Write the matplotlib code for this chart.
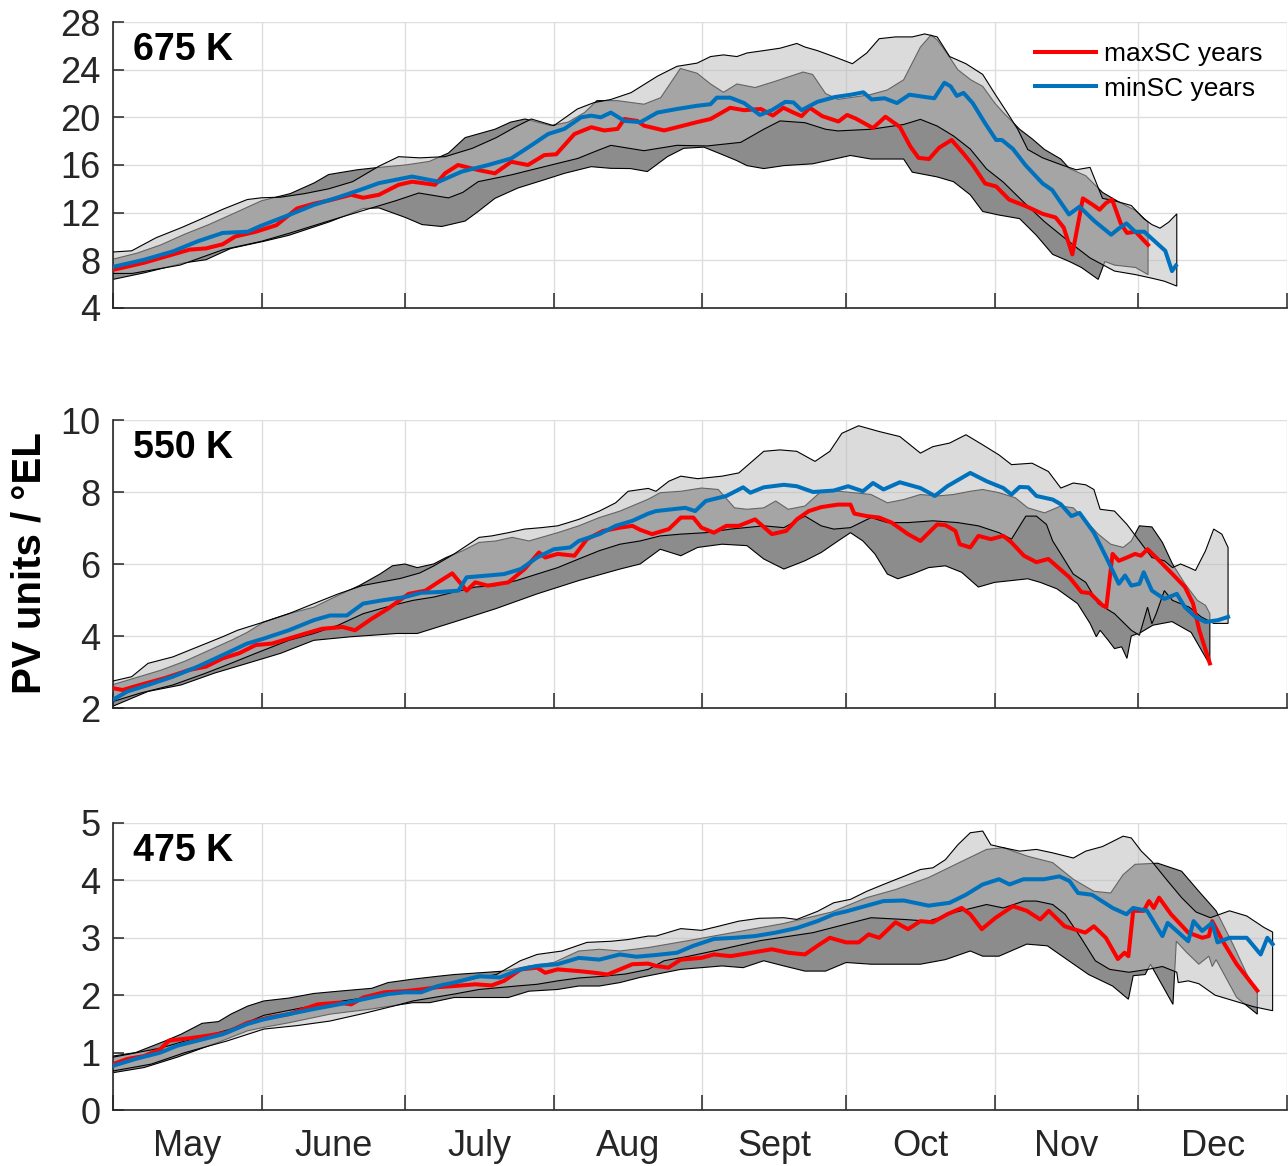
import numpy as np
import matplotlib.pyplot as plt

plt.rcParams['font.family'] = ['Liberation Sans', 'DejaVu Sans']

# x values are days since 1 May
month_names = ['May', 'June', 'July', 'Aug', 'Sept', 'Oct', 'Nov', 'Dec']
month_starts = [0, 31, 61, 92, 123, 153, 184, 214, 245]

# ---------------- 675 K ----------------
dark_hi_675 = [(0, 8.1), (5, 8.6), (10, 9.3), (15, 10.2), (20, 11.0), (25, 11.9), (31, 13.0), (37, 13.6),
               (42, 14.5), (45, 15.2), (51, 15.6), (55.5, 15.8), (61, 16.0), (66, 16.3), (70, 17.0),
               (73.5, 18.3), (79.7, 19.0), (83, 19.6), (86, 19.86), (91.4, 19.3), (95, 19.6), (98.4, 20.4),
               (101, 21.4), (105.3, 21.4), (110.8, 21.1), (114.3, 21.65), (118.4, 24.1), (121.9, 23.7),
               (124.7, 22.8), (127.4, 22.1), (130.2, 22.8), (134, 22.5), (138, 23.0), (144, 23.8), (146, 23.6),
               (148.7, 22.0), (151.3, 21.5), (158, 21.9), (161.6, 22.3), (165, 23.15), (168.5, 25.9),
               (170.7, 26.9), (172, 26.5), (174, 25.4), (176.3, 24.0), (179, 23.15), (181.5, 22.6), (184, 21.2),
               (185.8, 20.4), (189.2, 19.0), (191.8, 18.2), (194.4, 17.3), (197.8, 16.5), (199.6, 15.7),
               (203, 15.1), (206.5, 13.7), (209.9, 12.9), (213.3, 12.2), (216, 11.2)]
dark_lo_675 = [(0, 6.4), (6.5, 6.95), (15, 7.8), (19.4, 8.05), (24.6, 9.0), (31.5, 9.6), (36.7, 10.1),
               (45.3, 11.25), (52.2, 12.35), (55.5, 12.4), (61, 11.6), (64.5, 11.0), (68.6, 10.84),
               (73.5, 11.3), (76.2, 12.1), (79.7, 13.2), (84.5, 14.07), (90, 14.76), (94.2, 15.3),
               (99.8, 15.86), (103.9, 15.72), (108, 15.7), (111.5, 15.45), (115.7, 16.7), (119.1, 17.4),
               (123.3, 17.5), (127, 16.9), (130, 16.4), (132.3, 15.95), (135.8, 15.7), (140, 15.95),
               (146, 16.1), (153.9, 16.8), (158.2, 16.5), (165, 16.5), (166.8, 15.4), (172, 15.0),
               (175.4, 14.6), (178.9, 13.5), (181.5, 12.1), (184.9, 11.8), (189.2, 11.5), (192.7, 10.1),
               (196.1, 8.5), (199.6, 7.9), (202.1, 7.4), (205.6, 6.4), (207, 7.9), (209, 7.6), (213.4, 7.4),
               (216, 6.8)]
light_hi_675 = [(0, 8.7), (3.9, 8.8), (9, 9.9), (14.3, 10.75), (18, 11.4), (23, 12.3), (28, 13.1), (31, 13.25),
                (35, 13.3), (40, 13.6), (45, 14.0), (50, 14.6), (55.5, 15.9), (59.6, 16.7), (64, 16.6),
                (69.3, 16.7), (75, 17.4), (80, 18.3), (84, 19.2), (87.3, 19.86), (92, 19.3), (96.9, 20.7),
                (100.4, 21.24), (103.9, 21.5), (108.1, 22.07), (113.6, 23.45), (117.7, 24.28), (121.9, 24.55),
                (124.7, 25.1), (127.4, 25.24), (130.2, 25.1), (132.3, 25.4), (135.8, 25.6), (139.2, 25.8),
                (142.7, 26.2), (144.4, 25.9), (147, 25.6), (150.4, 25.1), (154.3, 24.5), (157.3, 25.4),
                (159.9, 26.6), (163.3, 26.75), (166.8, 26.75), (169.4, 27.0), (172, 26.75), (174.6, 25.1),
                (178, 24.5), (181.5, 23.6), (184, 22.0), (186.6, 20.4), (188.8, 19.0), (190.9, 17.3),
                (194, 16.6), (198, 16.0), (201, 15.6), (203.9, 15.8), (206.5, 13.2), (209, 13.0),
                (212.5, 12.6), (215.1, 11.5), (216.8, 11.0), (218.5, 10.7), (220.3, 11.2), (222, 11.9)]
light_lo_675 = [(0, 6.9), (4, 6.9), (14, 7.6), (23, 8.9), (31, 9.6), (37, 10.3), (45, 11.3), (54, 12.4),
                (59, 13.0), (63.8, 13.65), (70, 13.24), (73, 13.7), (76.2, 14.6), (83.1, 15.17), (90, 15.86),
                (97, 16.55), (101, 17.2), (103.9, 17.65), (110.8, 17.2), (117.7, 17.65), (124, 17.6),
                (131, 17.9), (135.8, 19.0), (139.2, 19.7), (144.4, 19.55), (148.7, 19.0), (151.3, 18.86),
                (158.2, 19.0), (165, 19.4), (168.5, 19.83), (172, 19.27), (175.4, 18.44), (178.9, 17.34),
                (182.3, 15.67), (185.8, 14.56), (190, 12.9), (194.4, 11.24), (197.8, 10.13), (201.3, 9.0),
                (203.9, 8.2), (206.5, 7.64), (209, 7.1), (213.4, 6.8), (216.8, 6.5), (219.4, 6.25), (222, 5.84)]
red_675 = [(0, 7.2), (6.5, 7.8), (10.8, 8.3), (16, 8.9), (19.4, 9.0), (22.9, 9.35), (25.5, 10.0), (29.8, 10.4),
           (34.1, 10.95), (38.4, 12.35), (41.9, 12.75), (45.3, 13.05), (49.7, 13.5), (52.2, 13.25),
           (55.5, 13.5), (59.6, 14.34), (62.4, 14.6), (67.2, 14.34), (69.3, 15.3), (72, 16.0), (76.2, 15.58),
           (79.7, 15.3), (83.1, 16.27), (86.6, 16.0), (90, 16.83), (92.5, 16.9), (96.3, 18.6),
           (99.8, 19.17), (102.5, 18.9), (105.3, 19.03), (106.7, 19.86), (109.4, 19.7), (110.8, 19.3),
           (115, 18.9), (117.7, 19.17), (121.9, 19.6), (124.7, 19.86), (128.8, 20.8), (131.7, 20.6),
           (135.2, 20.7), (137.7, 20.15), (139.9, 20.8), (142, 20.4), (143.7, 20.1), (145.4, 20.8),
           (148, 20.1), (151.4, 19.65), (153.2, 20.2), (155, 19.9), (158.6, 19.1), (161.2, 20.05),
           (164.2, 19.2), (166.4, 17.55), (168.1, 16.6), (170.3, 16.5), (172.4, 17.45), (175, 18.1),
           (177.6, 16.9), (179.4, 16.0), (182, 14.45), (184.3, 14.2), (187, 13.1), (190.5, 12.55),
           (194, 11.9), (196.7, 11.6), (198.4, 10.75), (200.2, 8.5), (202.4, 13.2), (204.5, 12.65),
           (205.9, 12.25), (207.2, 12.8), (208.5, 13.1), (210.3, 11.1), (211.6, 10.3), (213.4, 10.4),
           (216, 9.3)]
blue_675 = [(0, 7.45), (6.5, 8.05), (12.5, 8.75), (17.7, 9.6), (22.9, 10.3), (28.1, 10.4), (30.9, 10.9),
            (36.7, 11.8), (41.9, 12.65), (47.1, 13.3), (52.2, 14.0), (55.5, 14.48), (62.4, 15.03),
            (68, 14.6), (72.8, 15.45), (78.3, 16.0), (83.1, 16.55), (87.3, 17.65), (90.8, 18.6),
            (94.2, 19.03), (97.7, 20.0), (99.8, 20.14), (101.8, 20.0), (103.9, 20.4), (106.7, 19.7),
            (110.1, 19.6), (113.6, 20.4), (117.7, 20.7), (121.9, 20.97), (124.7, 21.1), (126, 21.65),
            (128.8, 21.65), (131.7, 21.2), (135, 20.2), (137.5, 20.6), (140.3, 21.3), (142, 21.25),
            (143.7, 20.6), (147, 21.3), (150.6, 21.7), (154, 21.9), (156.6, 22.1), (158.3, 21.5), (161, 21.6),
            (163.6, 21.2), (166.2, 21.9), (169.6, 21.7), (171.4, 21.6), (173.5, 22.9), (174.8, 22.6),
            (176.1, 21.8), (177.5, 22.05), (179.4, 21.2), (182, 19.5), (184.3, 18.1), (185.5, 18.1),
            (187.8, 17.35), (190.4, 16.0), (194, 14.45), (196, 13.9), (199.5, 11.85), (201.7, 12.5),
            (204.8, 11.3), (208.3, 10.15), (210, 10.7), (211.5, 11.1), (213.3, 10.4), (215.2, 10.4),
            (217.4, 9.6), (219.6, 8.8), (221, 7.1), (221.8, 7.55)]

# ---------------- 550 K ----------------
dark_hi_550 = [(0, 2.65), (5, 2.85), (10, 3.05), (15, 3.3), (20, 3.6), (25, 3.9), (28, 4.1), (31.5, 4.39),
               (36.7, 4.62), (41.9, 4.8), (47, 5.13), (51.4, 5.4), (55.7, 5.72), (58.3, 5.95), (60.9, 6.0),
               (63.5, 5.9), (66.9, 6.0), (69.5, 6.18), (73, 6.37), (76.4, 6.6), (79.9, 6.64), (83.3, 6.74),
               (86.8, 6.64), (92.8, 6.87), (97.2, 7.06), (101.5, 7.29), (105.8, 7.47), (111.7, 7.8),
               (114.2, 7.98), (118.5, 8.02), (122.8, 8.11), (126.3, 8.07), (129.7, 7.56), (132.3, 7.52),
               (135.8, 7.56), (138.3, 7.75), (140.9, 7.52), (144.4, 7.61), (147.8, 8.02), (151.3, 8.02),
               (154.7, 7.98), (158.2, 7.93), (161.6, 7.7), (165, 7.79), (168.5, 7.93), (172, 7.89),
               (175.4, 7.93), (178.9, 8.02), (181.5, 8.07), (184.9, 7.98), (188.3, 7.84), (190.9, 7.56),
               (194.4, 7.42), (197.8, 7.61), (200.4, 7.56), (203, 7.2), (205.6, 6.83), (208.2, 6.55),
               (210.8, 6.46), (212.5, 6.64), (214.2, 7.06), (216.8, 7.03), (219, 6.6), (221.1, 6.0),
               (223.7, 5.45), (226.3, 4.99), (228, 4.85), (228.9, 4.62)]
dark_lo_550 = [(0, 2.05), (7.3, 2.46), (14.2, 2.64), (21.2, 2.97), (28, 3.24), (35, 3.52), (41.9, 3.88),
               (49.7, 3.98), (54, 4.02), (59.2, 4.07), (63.5, 4.07), (71.2, 4.39), (79.9, 4.76), (88.5, 5.17),
               (97.2, 5.54), (105.8, 5.86), (110, 6.0), (114.2, 6.41), (118.5, 6.23), (122, 6.46),
               (127.1, 6.55), (132.3, 6.51), (135.8, 6.14), (140, 5.86), (144.4, 6.09), (147.8, 6.32),
               (151.3, 6.64), (153.9, 6.87), (156.5, 6.64), (159, 6.28), (161.6, 5.72), (163.8, 5.59),
               (166.8, 5.72), (170.2, 5.9), (173.7, 5.95), (177.1, 5.77), (180.6, 5.36), (184, 5.49),
               (187.5, 5.54), (190.9, 5.59), (193.5, 5.49), (197, 5.31), (201.3, 4.9), (203.9, 4.35),
               (205.2, 3.98), (206, 4.16), (207.7, 3.88), (209, 3.65), (210.5, 3.7), (211.6, 3.38),
               (212.5, 4.0), (214.5, 4.1), (217, 4.3), (221, 4.4), (225, 4.1), (228.9, 3.2)]
light_hi_550 = [(0, 2.75), (3.9, 2.87), (7.3, 3.24), (12.5, 3.42), (17.7, 3.7), (22.9, 3.98), (26, 4.16),
                (31.5, 4.39), (36.7, 4.62), (41.9, 4.9), (47, 5.17), (52, 5.4), (56, 5.5), (60, 5.6),
                (64, 5.75), (67, 5.95), (71.2, 6.28), (76.4, 6.74), (79, 6.78), (82.5, 6.87), (85.9, 6.97),
                (89.4, 7.01), (92.8, 7.06), (97.2, 7.24), (101.5, 7.47), (104.9, 7.7), (107.5, 8.02),
                (111.7, 8.1), (113.3, 8.02), (116, 8.3), (118.5, 8.44), (122, 8.37), (127.1, 8.44),
                (130.6, 8.53), (135.8, 9.13), (139.2, 9.17), (142.7, 9.13), (146.5, 8.85), (149.6, 9.13),
                (152.1, 9.63), (155.6, 9.84), (159.9, 9.68), (164.2, 9.54), (168.5, 9.08), (171.1, 9.26),
                (174.6, 9.36), (178, 9.59), (181.5, 9.31), (184.9, 9.03), (187.5, 8.76), (191.8, 8.8),
                (195.2, 8.57), (197.8, 8.11), (200.4, 8.25), (203, 8.2), (204.7, 8.07), (206, 7.52),
                (209, 7.47), (211.6, 7.1), (214.2, 6.64), (216.8, 6.18), (219.4, 6.09), (221.1, 5.9),
                (222.8, 6.0), (224.6, 5.9), (225.9, 5.82), (228, 6.37), (229.7, 6.97), (231.4, 6.83),
                (232.7, 6.46)]
light_lo_550 = [(0, 2.18), (5.6, 2.41), (12.5, 2.64), (19.4, 2.97), (24.6, 3.24), (29.8, 3.52), (36.7, 3.88),
                (41.9, 4.07), (47, 4.3), (52.2, 4.62), (58.3, 4.85), (62.6, 4.99), (66.9, 5.08), (71.2, 5.22),
                (75.6, 5.36), (79.9, 5.4), (84.2, 5.54), (88.5, 5.72), (92.8, 5.9), (97.2, 6.14),
                (101.5, 6.37), (105.8, 6.55), (110, 6.64), (114.2, 6.78), (118.5, 6.83), (123.7, 6.87),
                (128.9, 6.97), (135.8, 7.06), (140, 7.01), (144.4, 7.33), (147.8, 7.06), (150.4, 6.97),
                (153.9, 7.01), (158.2, 7.29), (161.6, 7.15), (165.9, 7.15), (171.1, 7.2), (176.3, 7.15),
                (180.6, 7.06), (184.9, 6.87), (187.5, 6.69), (190.5, 7.33), (192.7, 7.33), (194.8, 7.1),
                (196.1, 6.64), (197.8, 6.28), (200.4, 5.72), (203, 5.49), (205.6, 4.9), (209, 4.62),
                (212.5, 4.16), (214.2, 4.02), (215.9, 4.8), (216.8, 4.34), (217.7, 4.62), (219.4, 5.26),
                (221.1, 4.99), (224.6, 4.8), (227.1, 4.53), (229.7, 4.35), (232.7, 4.35)]
red_550 = [(0, 2.55), (2, 2.5), (5.6, 2.64), (10.8, 2.83), (16, 3.06), (19.4, 3.15), (22.9, 3.38), (26.3, 3.52),
           (29.8, 3.75), (33.2, 3.79), (36.7, 3.93), (40.2, 4.07), (43.6, 4.2), (47.9, 4.25), (50.5, 4.16),
           (54, 4.48), (57.4, 4.76), (61.7, 5.17), (65.2, 5.26), (67.8, 5.49), (70.8, 5.74), (73.8, 5.26),
           (75.6, 5.49), (78.2, 5.4), (82.5, 5.49), (85.9, 5.86), (88.9, 6.32), (90.2, 6.18), (92.8, 6.28),
           (96.3, 6.23), (98.9, 6.69), (102.3, 6.92), (105.8, 7.01), (108.4, 7.06), (110, 6.95),
           (112.5, 6.83), (116, 6.97), (118.5, 7.29), (121.1, 7.29), (122.8, 7.01), (125.4, 6.87),
           (128, 7.06), (130.6, 7.06), (134, 7.24), (137.5, 6.83), (140.5, 6.92), (142.7, 7.24),
           (145.2, 7.47), (147.8, 7.58), (151.3, 7.65), (153.9, 7.65), (154.7, 7.4), (157.3, 7.33),
           (159.9, 7.29), (162.5, 7.15), (165.9, 6.83), (168.5, 6.64), (172, 7.1), (173.7, 7.08),
           (175.8, 6.92), (176.7, 6.55), (178.9, 6.46), (180.6, 6.78), (183.2, 6.69), (185.8, 6.78),
           (187.5, 6.6), (190.1, 6.23), (192.7, 6.05), (195.2, 6.14), (199.6, 5.63), (202.1, 5.22),
           (203.9, 5.19), (206.5, 4.85), (207.3, 4.8), (208.6, 6.28), (209.9, 6.09), (211.6, 6.18),
           (213.3, 6.28), (214.5, 6.23), (215.9, 6.41), (217.7, 6.18), (221.1, 5.72), (223.7, 5.36),
           (225.4, 4.9), (226.7, 4.16), (228.9, 3.24)]
blue_550 = [(0, 2.23), (3, 2.46), (7.3, 2.64), (12.5, 2.87), (17.7, 3.15), (22.9, 3.47), (28, 3.79), (31.5, 3.93),
            (36.7, 4.16), (41.9, 4.44), (45.3, 4.57), (48.8, 4.57), (52.2, 4.9), (56.6, 5.0), (60.9, 5.08),
            (64.3, 5.2), (67.8, 5.22), (72.1, 5.26), (73.8, 5.63), (78.2, 5.68), (81.6, 5.72), (85.1, 5.86),
            (88.5, 6.18), (92, 6.41), (95.4, 6.46), (97.2, 6.64), (101.5, 6.83), (104.9, 7.06), (108.4, 7.2),
            (111.7, 7.4), (113.3, 7.47), (119.4, 7.56), (121.5, 7.47), (123.7, 7.75), (128, 7.89),
            (131.5, 8.13), (133, 7.98), (135.8, 8.13), (140, 8.2), (142.7, 8.16), (146.1, 8.0),
            (150.4, 8.04), (153.4, 8.16), (156.5, 8.02), (158.6, 8.25), (160.8, 8.07), (164.2, 8.27),
            (168.5, 8.11), (171.5, 7.89), (174.1, 8.16), (178.9, 8.53), (182.3, 8.3), (185.8, 8.11),
            (187.5, 7.93), (189.2, 8.14), (191, 8.13), (192.7, 7.89), (196.1, 7.79), (197.8, 7.66),
            (200, 7.33), (201.7, 7.42), (204.7, 6.87), (207.3, 6.18), (209.9, 5.45), (211.2, 5.68),
            (212.5, 5.4), (214.2, 5.45), (215.1, 5.77), (216.8, 5.26), (219.4, 5.03), (222, 5.17),
            (223.7, 4.8), (225.9, 4.53), (228, 4.39), (230.6, 4.44), (232.7, 4.53)]

# ---------------- 475 K ----------------
dark_hi_475 = [(0, 0.94), (4.7, 1.0), (10.8, 1.2), (14.2, 1.32), (18.6, 1.51), (22, 1.54), (24.6, 1.67),
               (28.1, 1.81), (31.5, 1.9), (36.7, 1.95), (41.9, 2.03), (47.1, 2.07), (54, 2.12), (57.4, 2.22),
               (62.6, 2.28), (67.8, 2.33), (71.2, 2.36), (76.4, 2.39), (81.6, 2.42), (86.8, 2.51), (92, 2.57),
               (97.2, 2.77), (101.5, 2.8), (105.8, 2.77), (111.7, 2.83), (120, 2.95), (130, 3.1), (140, 3.25),
               (150, 3.45), (157.3, 3.7), (163.3, 3.84), (170.2, 4.05), (177.1, 4.33), (182.3, 4.54),
               (185.8, 4.57), (190.9, 4.42), (196.1, 4.31), (200.4, 4.02), (204.7, 3.81), (208.2, 3.78),
               (210.8, 4.1), (213.3, 4.28), (218, 4.3), (223, 4.16), (226.6, 3.81), (230.2, 3.47),
               (233.7, 2.89), (236.6, 2.37), (238.8, 2.05)]
dark_lo_475 = [(0, 0.65), (6.5, 0.74), (13.4, 0.92), (22, 1.18), (28.1, 1.38), (31.5, 1.44), (36.7, 1.52),
               (45.3, 1.67), (54, 1.76), (62.6, 1.87), (66.1, 1.87), (71.2, 1.96), (78.2, 1.96), (82.5, 1.96),
               (86.8, 2.07), (92.8, 2.1), (97.2, 2.16), (101.5, 2.16), (105.8, 2.22), (110, 2.31),
               (118.5, 2.45), (127.1, 2.51), (131.5, 2.48), (135.8, 2.6), (140, 2.51), (144.4, 2.42),
               (148.7, 2.42), (153, 2.57), (158.2, 2.54), (163.3, 2.54), (168.5, 2.54), (173.7, 2.62),
               (178.9, 2.77), (181.5, 2.68), (184.9, 2.68), (190.7, 2.89), (195, 2.86), (198.6, 2.65),
               (203.6, 2.36), (208.6, 2.16), (211.9, 1.93), (212.9, 2.34), (215.4, 2.36), (216.5, 2.54),
               (221.2, 1.84), (221.9, 2.94), (224, 2.75), (226.6, 2.54), (228.7, 2.68), (229.4, 2.5),
               (230.2, 2.62), (234.5, 1.96), (238.8, 1.67)]
light_hi_475 = [(0, 0.92), (5, 1.0), (10, 1.08), (15, 1.2), (20, 1.3), (25, 1.42), (31.5, 1.65), (37, 1.74),
                (42, 1.82), (48, 1.9), (53, 1.96), (58, 2.03), (61, 2.08), (66, 2.13), (71, 2.2), (76, 2.3),
                (80, 2.36), (85, 2.6), (88.5, 2.71), (93.7, 2.77), (98.9, 2.92), (104, 2.94), (107.5, 2.97),
                (111.7, 3.03), (113.3, 3.03), (118.5, 3.16), (122.8, 3.13), (126.3, 3.2), (130.6, 3.29),
                (134.9, 3.34), (140, 3.35), (142.7, 3.32), (147, 3.46), (150.4, 3.61), (153.9, 3.67),
                (157.3, 3.81), (160.8, 3.93), (165, 4.07), (168.5, 4.19), (171.1, 4.22), (173.7, 4.36),
                (176.3, 4.62), (178.9, 4.83), (181.5, 4.86), (183.2, 4.62), (185.8, 4.57), (189.2, 4.51),
                (192.7, 4.54), (196.1, 4.48), (200.4, 4.39), (203, 4.51), (206.5, 4.59), (210.8, 4.77),
                (212.5, 4.74), (214.6, 4.51), (216.8, 4.33), (220, 4.0), (223, 3.7), (226, 3.45),
                (229, 3.35), (233, 3.47), (236.6, 3.38), (240.2, 3.18), (242, 3.1)]
light_lo_475 = [(0, 0.68), (8, 0.8), (15, 1.0), (23.7, 1.2), (31.5, 1.41), (38.4, 1.47), (45.3, 1.55),
                (52.2, 1.68), (59, 1.82), (62.6, 1.9), (71.2, 2.02), (76.4, 2.1), (84.2, 2.16), (88.5, 2.19),
                (92.8, 2.25), (97.2, 2.3), (102.3, 2.33), (107, 2.37), (111.7, 2.45), (115, 2.6), (120.2, 2.68),
                (127, 2.8), (135, 2.95), (146.1, 3.09), (158.2, 3.35), (165, 3.32), (170.2, 3.29), (176, 3.45),
                (182.3, 3.58), (185.8, 3.52), (190.1, 3.64), (192.7, 3.64), (196.1, 3.58), (198.7, 3.41),
                (202, 3.0), (205, 2.6), (208, 2.45), (212, 2.4), (216, 2.45), (219, 2.5), (222, 2.4),
                (222.3, 2.22), (224.4, 2.25), (226.6, 2.2), (230, 2.0), (234, 1.9), (238, 1.8), (242, 1.73)]
red_475 = [(0, 0.8), (3, 0.89), (6.5, 0.94), (9.9, 1.06), (11.7, 1.21), (16, 1.25), (19.4, 1.29), (23.7, 1.35),
           (28.1, 1.52), (32.4, 1.61), (36.7, 1.67), (42.7, 1.84), (47.1, 1.87), (49.7, 1.84), (52.2, 1.96),
           (56.6, 2.05), (60.9, 2.07), (64.3, 2.1), (67.8, 2.14), (71.2, 2.16), (75.6, 2.19), (79, 2.17),
           (81.6, 2.25), (85.1, 2.45), (88.5, 2.48), (90.2, 2.39), (92.8, 2.45), (97.2, 2.42), (100.6, 2.39),
           (103.2, 2.36), (105.8, 2.45), (108.4, 2.54), (111.7, 2.55), (113.3, 2.51), (115.9, 2.48),
           (118.5, 2.62), (122.8, 2.65), (125.4, 2.71), (128.9, 2.68), (133.2, 2.74), (137.5, 2.8),
           (140.9, 2.74), (144.4, 2.71), (147, 2.86), (149.6, 3.0), (153, 2.92), (155.6, 2.92),
           (157.7, 3.06), (159.9, 3.0), (163.3, 3.27), (165.9, 3.15), (168.5, 3.29), (171.1, 3.27),
           (174.1, 3.41), (177.1, 3.52), (178.9, 3.41), (181.3, 3.15), (184.2, 3.35), (187.8, 3.55),
           (190.7, 3.47), (193.5, 3.32), (195.3, 3.47), (198.6, 3.2), (202.9, 3.09), (204.7, 3.2),
           (207.2, 3.0), (209.7, 2.63), (211.1, 2.74), (211.9, 2.68), (212.9, 3.47), (215.1, 3.47),
           (216.2, 3.64), (217.2, 3.52), (218.3, 3.7), (220.8, 3.41), (224.4, 3.09), (227.3, 3.0),
           (228.7, 3.03), (229.4, 3.29), (231.6, 2.94), (234.5, 2.54), (238.8, 2.08)]
blue_475 = [(0, 0.77), (4.7, 0.89), (9.9, 1.0), (13.4, 1.12), (17.7, 1.21), (22.9, 1.32), (28.1, 1.5),
            (31.5, 1.58), (36.7, 1.67), (41.9, 1.76), (47.1, 1.84), (52.2, 1.93), (57.4, 2.02), (60.9, 2.05),
            (64.3, 2.05), (67.8, 2.16), (71.2, 2.22), (76.4, 2.33), (80.7, 2.31), (85.1, 2.45), (88.5, 2.51),
            (92.8, 2.54), (97.2, 2.65), (101.5, 2.62), (105.8, 2.71), (109.2, 2.67), (113.3, 2.7),
            (117.7, 2.74), (121.1, 2.86), (125.4, 2.98), (129.7, 3.0), (134, 3.03), (138.3, 3.09),
            (142.7, 3.17), (147, 3.29), (150.4, 3.41), (153, 3.46), (158.2, 3.58), (160.8, 3.64),
            (165, 3.65), (170.2, 3.56), (174.6, 3.61), (178, 3.75), (181.5, 3.93), (184.9, 4.02),
            (187.1, 3.93), (190, 4.02), (194.3, 4.02), (197.5, 4.07), (199.6, 3.99), (201.4, 3.78),
            (204.3, 3.75), (208.6, 3.52), (211.5, 3.41), (212.9, 3.52), (215.8, 3.47), (219, 3.03),
            (220.1, 3.26), (224.4, 2.94), (225.5, 3.29), (227.3, 3.12), (229.4, 3.26), (230.5, 2.92),
            (233, 3.0), (236.6, 3.0), (239.5, 2.71), (240.9, 3.0), (242, 2.89)]

panels = [
    ('675 K', dark_hi_675, dark_lo_675, light_hi_675, light_lo_675, red_675, blue_675, (4, 28), range(4, 29, 4)),
    ('550 K', dark_hi_550, dark_lo_550, light_hi_550, light_lo_550, red_550, blue_550, (2, 10), range(2, 11, 2)),
    ('475 K', dark_hi_475, dark_lo_475, light_hi_475, light_lo_475, red_475, blue_475, (0, 5), range(0, 6)),
]

W, H = 1288, 1166
fig = plt.figure(figsize=(W / 100, H / 100), dpi=100)
# axes boxes in pixels: (top, bottom)
boxes = [(22, 308), (420, 708), (823, 1110)]
axc = '#262626'


def band(ax, hi, lo, face, z):
    hi = np.array(hi)
    lo = np.array(lo)
    xs = np.r_[hi[:, 0], lo[::-1, 0]]
    ys = np.r_[hi[:, 1], lo[::-1, 1]]
    ax.fill(xs, ys, facecolor=face, edgecolor='k', lw=0.8, zorder=z)


for i, (name, dhi, dlo, lhi, llo, red, blue, ylim, yt) in enumerate(panels):
    top, bot = boxes[i]
    ax = fig.add_axes([113 / W, 1 - bot / H, 1174 / W, (bot - top) / H])
    ax.set_axisbelow(True)
    band(ax, dhi, dlo, (0.55, 0.55, 0.55), 2)
    band(ax, lhi, llo, (0.737, 0.737, 0.737, 0.533), 3)
    r = np.array(red)
    b = np.array(blue)
    ax.plot(r[:, 0], r[:, 1], color='#ff0000', lw=2.9, zorder=4, label='maxSC years')
    ax.plot(b[:, 0], b[:, 1], color='#0072BD', lw=2.9, zorder=5, label='minSC years')

    ax.set_xlim(0, 245)
    ax.set_ylim(*ylim)
    ax.set_yticks(list(yt))
    ax.set_xticks(month_starts)
    ax.set_xticklabels([])
    mids = [(month_starts[k] + month_starts[k + 1]) / 2 for k in range(8)]
    ax.set_xticks(mids, minor=True)
    if i == 2:
        ax.set_xticklabels(month_names, minor=True)
    else:
        ax.set_xticklabels([], minor=True)
    ax.tick_params(axis='x', which='major', direction='in', length=11, width=1.1, color=axc)
    ax.tick_params(axis='x', which='minor', length=0, pad=14, labelsize=26, labelcolor=axc)
    ax.tick_params(axis='y', direction='in', length=8, width=1.1, color=axc, labelsize=26,
                   labelcolor=axc, pad=9)
    ax.grid(True, which='major', color='#dedede', lw=1)
    for s in ['top', 'right']:
        ax.spines[s].set_visible(False)
    for s in ['left', 'bottom']:
        ax.spines[s].set_color(axc)
        ax.spines[s].set_linewidth(1.2)

    ax.text(0.017, 0.965, name, transform=ax.transAxes, ha='left', va='top',
            fontsize=27, fontweight='bold')
    if i == 0:
        ax.legend(loc='upper right', bbox_to_anchor=(1 - 6 / 1174, 1 - 2 / 286), frameon=False,
                  fontsize=19, handlelength=2.3, handletextpad=0.3, borderaxespad=0.3,
                  labelspacing=0.38)

fig.text(30 / W, 1 - 563 / H, 'PV units / \u00b0EL', rotation=90, ha='center', va='center',
         fontsize=29, fontweight='bold')

fig.savefig('out.png', dpi=100)
